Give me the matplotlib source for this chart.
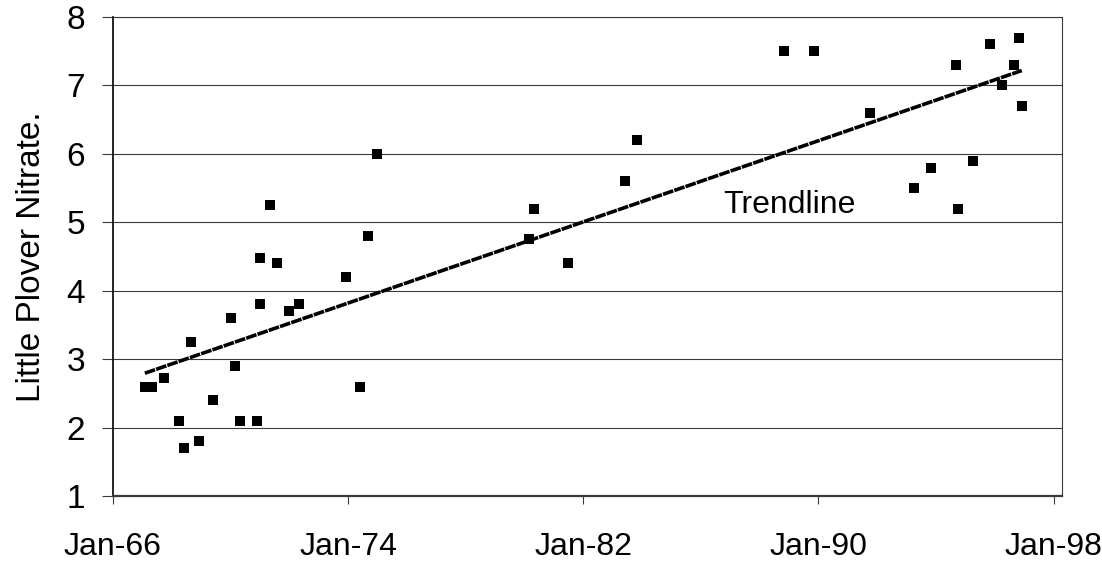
import matplotlib
matplotlib.use('Agg')
import matplotlib.pyplot as plt
import matplotlib.dates as mdates
import numpy as np
import pandas as pd

# sample dates (year-month) and nitrate readings
dates = ['1967-02', '1967-05', '1967-10', '1968-04', '1968-06', '1968-09',
         '1968-12', '1969-06', '1970-01', '1970-03', '1970-05', '1970-12',
         '1971-01', '1971-01', '1971-05', '1971-08', '1972-01', '1972-05',
         '1973-12', '1974-06', '1974-09', '1975-01', '1980-03', '1980-05',
         '1981-07', '1983-06', '1983-11', '1988-11', '1989-11', '1991-10',
         '1993-04', '1993-11', '1994-09', '1994-10', '1995-04', '1995-11',
         '1996-04', '1996-09', '1996-11', '1996-12']
nitrate = [2.6, 2.6, 2.73, 2.1, 1.7, 3.25,
           1.8, 2.4, 3.6, 2.9, 2.1, 2.1,
           3.8, 4.48, 5.25, 4.4, 3.7, 3.8,
           4.2, 2.6, 4.8, 6.0, 4.75, 5.2,
           4.4, 5.6, 6.2, 7.5, 7.5, 6.6,
           5.5, 5.8, 7.3, 5.2, 5.9, 7.6,
           7.0, 7.3, 7.7, 6.7]
tick_years = [1966, 1974, 1982, 1990, 1998]

plt.rcParams['font.family'] = ['Liberation Sans', 'DejaVu Sans']

x = pd.to_datetime(dates)
xn = mdates.date2num(x)

fig = plt.figure(figsize=(11.02, 5.71), dpi=100)
ax = fig.add_axes([0.1025, 0.1313, 0.8612, 0.8389])

ax.scatter(x, nitrate, marker='s', s=58, color='black', zorder=3, linewidths=0)

# linear trendline over the data range
m, b = np.polyfit(xn, nitrate, 1)
tx = np.array([xn.min(), xn.max()])
ax.plot(mdates.num2date(tx), m * tx + b, color='black', lw=2.6,
        linestyle=(0, (3, 0.3)), zorder=2)

ax.text(mdates.date2num(pd.Timestamp('1989-01-01')), 5.25, 'Trendline',
        fontsize=23, ha='center', va='center')

ax.set_ylim(1, 8)
ax.set_yticks(range(1, 9))
ax.set_xlim(pd.Timestamp('1966-01-01'), pd.Timestamp('1998-04-15'))
ax.set_xticks([pd.Timestamp(f'{y}-01-01') for y in tick_years])
ax.xaxis.set_major_formatter(mdates.DateFormatter('%b-%y'))

ax.grid(axis='y', color='#3a3a3a', lw=0.8)
ax.set_axisbelow(True)
ax.tick_params(axis='y', labelsize=24, length=8, width=0.8, pad=12, color='#3a3a3a')
ax.tick_params(axis='x', labelsize=23, length=6, width=0.8, pad=20, color='#3a3a3a')

ax.spines['left'].set_color('black')
ax.spines['left'].set_linewidth(1.2)
ax.spines['bottom'].set_color('#3a3a3a')
ax.spines['bottom'].set_linewidth(1.6)
ax.spines['right'].set_color('#3a3a3a')
ax.spines['right'].set_linewidth(0.8)
ax.spines['top'].set_color('#3a3a3a')
ax.spines['top'].set_linewidth(0.8)

ax.set_ylabel('Little Plover Nitrate.', fontsize=24, labelpad=14)

fig.savefig('out.png', dpi=100)
